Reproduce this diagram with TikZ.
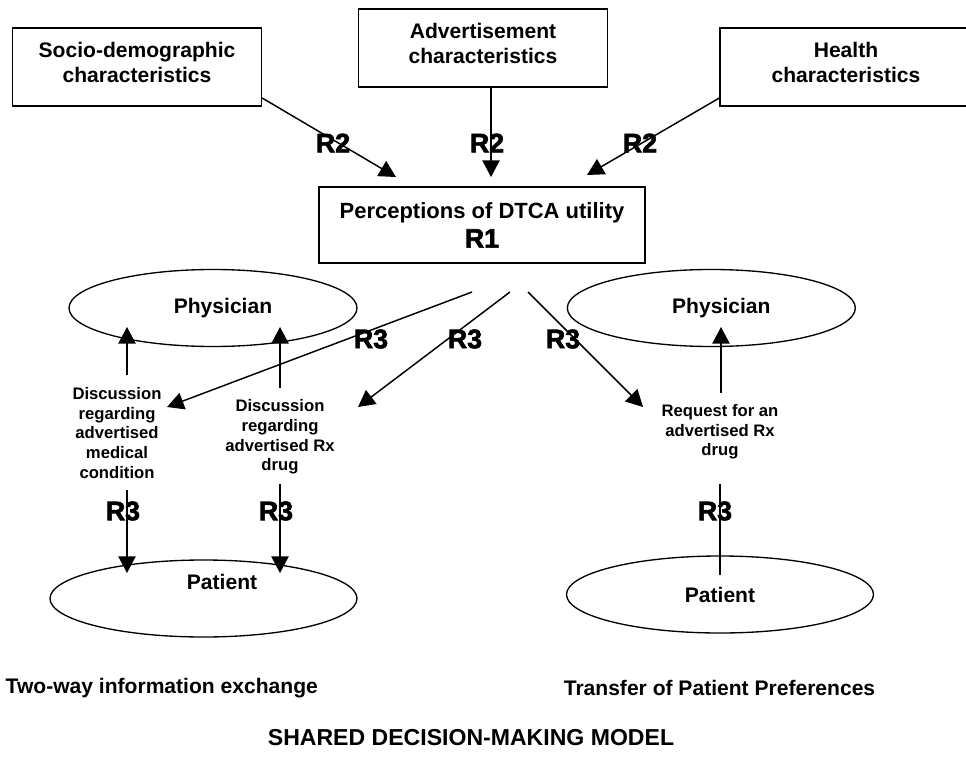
\documentclass[tikz,border=0pt]{standalone}
\usepackage{fontspec}
\setmainfont{Liberation Sans}
\newfontfamily\rfont{Liberation Sans}[BoldFeatures={FakeBold=2.5}]
\usetikzlibrary{positioning, arrows.meta, shapes.geometric}

\begin{document}
\begin{tikzpicture}[x=0.75pt, y=-0.75pt,
    every node/.style={font=\fontsize{15.8}{18.75}\selectfont\bfseries},
    box/.style={draw, line width=1pt, minimum width=186.75pt, minimum height=58.5pt, align=center},
    topbox/.style={box, text depth=7.5pt},
    oval/.style={draw, ellipse, line width=1pt, minimum width=216pt, minimum height=57.75pt},
    small/.style={font=\fontsize{12.5}{14.7}\selectfont\bfseries, align=center},
    rlab/.style={font=\rfont\bfseries\fontsize{20}{21}\selectfont},
    arrow/.style={-{Triangle[length=12.5pt, width=13pt]}, line width=1.1pt}
  ]
\useasboundingbox (0,0) rectangle (966,759);

\node[topbox] (socio) at (137,67) {Socio-demographic\\characteristics};
\node[topbox] (advert) at (483,48) {Advertisement\\characteristics};
\node[topbox, minimum width=189pt] (health) at (846,67) {Health\\characteristics};

\node[box, minimum width=244.5pt, minimum height=57pt, font=\fontsize{16.5}{19}\selectfont\bfseries] (perc) at (482,225)
     {Perceptions of DTCA utility\\[3pt]{\rfont\fontsize{20}{21}\selectfont R1}};

\node[oval] (physL) at (213,308) {\hspace*{15pt}Physician};
\node[oval, right=156.75pt of physL] (physR) {\hspace*{15pt}Physician};

\node[oval, minimum width=230.25pt,
      label={[xshift=13.9pt, yshift=12.4pt]center:Patient}] (patL) at (203.5,598.5) {};
\node[oval, minimum width=230.25pt] (patR) at (720,594.5) {Patient};

\node[small] (dmed) at (117,433) {Discussion\\regarding\\advertised\\medical\\condition};
\node[small] (drx)  at (280,437) {Discussion\\regarding\\advertised Rx\\drug};
\node[small] (req)  at (720,432) {Request for an\\advertised Rx\\drug};

\coordinate (inA) at (396,177);
\coordinate (inB) at (491,177);
\coordinate (inC) at (587,175);
\draw[arrow] ([yshift=-23.25pt]socio.east) -- (inA);
\draw[arrow] (advert.south -| inB) -- (inB);
\draw[arrow] ([yshift=-23.25pt]health.west) -- (inC);

\node[rlab] (r2a) at (333,143) {R2};
\node[rlab] (r2b) at (487,143) {R2};
\node[rlab] (r2c) at (640,143) {R2};

\coordinate (outA) at (472,292);
\coordinate (outB) at (510,292);
\coordinate (outC) at (528,292);
\coordinate (toMed) at (167,407);
\coordinate (toRx) at (358,407);
\coordinate (toReq) at (643,407);
\draw[arrow] (outA) -- (toMed);
\draw[arrow] (outB) -- (toRx);
\draw[arrow] (outC) -- (toReq);

\node[rlab] (r3a) at (371,339) {R3};
\node[rlab] (r3b) at (465,339) {R3};
\node[rlab] (r3c) at (563,339) {R3};

\coordinate (medUp) at (127,375);
\coordinate (medPh) at (127,327);
\coordinate (rxUp) at (280,388);
\coordinate (rxPh) at (280,327);
\coordinate (reqUp) at (721,393);
\coordinate (reqPh) at (721,327);
\draw[arrow] (medUp) -- (medPh);
\draw[arrow] (rxUp) -- (rxPh);
\draw[arrow] (reqUp) -- (reqPh);

\coordinate (medDn) at (127,490);
\coordinate (medPt) at (127,573);
\coordinate (rxDn) at (280,484);
\coordinate (rxPt) at (280,573);
\coordinate (reqDn) at (720,484);
\coordinate (reqPt) at (720,575);
\draw[arrow] (medDn) -- (medPt);
\draw[arrow] (rxDn) -- (rxPt);
\draw[line width=1.1pt] (reqDn) -- (reqPt);

\node[rlab] (r3d) at (123,511) {R3};
\node[rlab] (r3e) at (276,511) {R3};
\node[rlab] (r3f) at (715,511) {R3};

\node[anchor=west] (twoway) at (1,688) {Two-way information exchange};
\node (transfer) at (719.5,688) {Transfer of Patient Preferences};
\node[font=\fontsize{17.3}{20}\selectfont\bfseries] (model) at (471,738) {SHARED DECISION-MAKING MODEL};
\end{tikzpicture}
\end{document}
